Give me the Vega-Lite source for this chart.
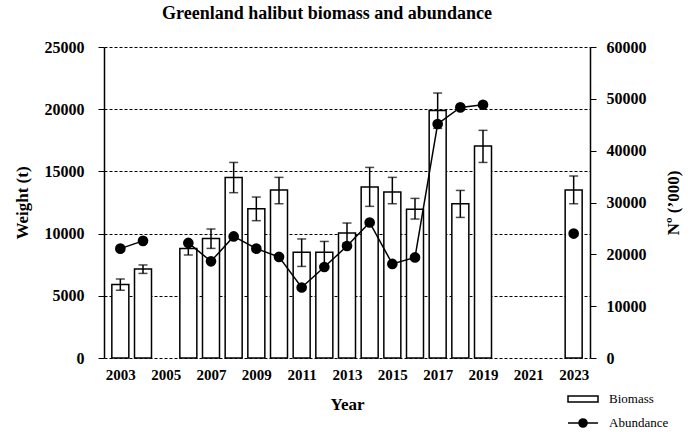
{
  "$schema": "https://vega.github.io/schema/vega-lite/v6.json",
  "width": 486,
  "height": 311,
  "autosize": {"type": "none"},
  "padding": {"left": 104, "top": 47, "right": 104, "bottom": 74},
  "background": "white",
  "config": {
    "font": "Liberation Serif",
    "view": {"stroke": null},
    "title": {"font": "Liberation Serif"},
    "legend": {"labelFont": "Liberation Serif", "titleFont": "Liberation Serif"},
    "axis": {
      "labelFont": "Liberation Serif",
      "labelFontWeight": "bold",
      "labelFontSize": 16,
      "labelColor": "black",
      "titleFont": "Liberation Serif",
      "titleFontWeight": "bold",
      "titleFontSize": 17,
      "titleColor": "black",
      "domainColor": "black",
      "tickColor": "black",
      "domainWidth": 1.5,
      "tickWidth": 1
    }
  },
  "title": {
    "text": "Greenland halibut biomass and abundance",
    "font": "Liberation Serif",
    "fontSize": 18,
    "fontWeight": "bold",
    "color": "black",
    "anchor": "middle",
    "frame": "group",
    "dx": -20,
    "offset": 16
  },
  "data": {
    "values": [
      {"year": 2003, "biomass": 5900, "lo": 5450, "hi": 6350, "abundance": 21100, "seg": "a"},
      {"year": 2004, "biomass": 7150, "lo": 6800, "hi": 7480, "abundance": 22600, "seg": "a"},
      {"year": 2006, "biomass": 8800, "lo": 8280, "hi": 9320, "abundance": 22200, "seg": "b"},
      {"year": 2007, "biomass": 9600, "lo": 8810, "hi": 10370, "abundance": 18650, "seg": "b"},
      {"year": 2008, "biomass": 14500, "lo": 13290, "hi": 15720, "abundance": 23450, "seg": "b"},
      {"year": 2009, "biomass": 12000, "lo": 11040, "hi": 12940, "abundance": 21100, "seg": "b"},
      {"year": 2010, "biomass": 13500, "lo": 12400, "hi": 14520, "abundance": 19500, "seg": "b"},
      {"year": 2011, "biomass": 8500, "lo": 7360, "hi": 9570, "abundance": 13600, "seg": "b"},
      {"year": 2012, "biomass": 8500, "lo": 7360, "hi": 9370, "abundance": 17550, "seg": "b"},
      {"year": 2013, "biomass": 10050, "lo": 9240, "hi": 10850, "abundance": 21600, "seg": "b"},
      {"year": 2014, "biomass": 13750, "lo": 12190, "hi": 15320, "abundance": 26150, "seg": "b"},
      {"year": 2015, "biomass": 13350, "lo": 12400, "hi": 14520, "abundance": 18150, "seg": "b"},
      {"year": 2016, "biomass": 11950, "lo": 11170, "hi": 12830, "abundance": 19400, "seg": "b"},
      {"year": 2017, "biomass": 19900, "lo": 18460, "hi": 21300, "abundance": 45150, "seg": "b"},
      {"year": 2018, "biomass": 12400, "lo": 11300, "hi": 13470, "abundance": 48350, "seg": "b"},
      {"year": 2019, "biomass": 17050, "lo": 15720, "hi": 18300, "abundance": 48850, "seg": "b"},
      {"year": 2023, "biomass": 13500, "lo": 12400, "hi": 14630, "abundance": 24000, "seg": "c"}
    ]
  },
  "layer": [
    {
      "layer": [
        {
          "mark": {"type": "bar", "size": 17, "fill": "white", "stroke": "black", "strokeWidth": 1.5},
          "encoding": {
            "x": {
              "field": "year",
              "type": "quantitative",
              "scale": {"domain": [2002.5, 2023.5], "nice": false, "zero": false},
              "axis": {
                "values": [2003, 2005, 2007, 2009, 2011, 2013, 2015, 2017, 2019, 2021, 2023],
                "format": "d",
                "title": "Year",
                "grid": false,
                "domain": false,
                "ticks": false,
                "labelPadding": 9,
                "titlePadding": 14,
                "labelFontSize": 15
              }
            },
            "y": {
              "field": "biomass",
              "type": "quantitative",
              "title": "Weight (t)",
              "scale": {"domain": [0, 25000], "nice": false},
              "axis": {
                "values": [0, 5000, 10000, 15000, 20000, 25000],
                "format": "d",
                "title": "Weight (t)",
                "grid": true,
                "gridColor": "black",
                "gridDash": [3, 2],
                "gridWidth": 1,
                "tickSize": 6,
                "labelPadding": 14,
                "titlePadding": 13
              }
            },
            "fill": {
              "datum": "Biomass",
              "scale": {"range": ["white"]},
              "legend": {
                "orient": "none",
                "legendX": 463,
                "legendY": 336,
                "title": null,
                "symbolType": "M-1,-0.2H1V0.2H-1Z",
                "symbolSize": 900,
                "symbolStrokeColor": "black",
                "symbolStrokeWidth": 1.5,
                "labelFont": "Liberation Serif",
                "labelFontSize": 13,
                "labelColor": "black",
                "labelOffset": 10
              }
            }
          }
        },
        {
          "mark": {"type": "errorbar", "color": "black", "ticks": {"size": 9, "thickness": 1.5}, "rule": {"strokeWidth": 1.5}},
          "encoding": {
            "x": {"field": "year", "type": "quantitative"},
            "y": {"field": "lo", "type": "quantitative", "title": "Weight (t)"},
            "y2": {"field": "hi"}
          }
        }
      ]
    },
    {
      "mark": {"type": "line", "color": "black", "strokeWidth": 1.5, "point": {"filled": true, "size": 75, "color": "black"}},
      "encoding": {
        "x": {"field": "year", "type": "quantitative"},
        "y": {
          "field": "abundance",
          "type": "quantitative",
          "scale": {"domain": [0, 60000], "nice": false},
          "axis": {
            "orient": "right",
            "values": [0, 10000, 20000, 30000, 40000, 50000, 60000],
            "format": "d",
            "title": "Nº (’000)",
            "titleAngle": 270,
            "grid": false,
            "tickSize": 6,
            "labelPadding": 10,
            "titlePadding": 36
          }
        },
        "detail": {"field": "seg"},
        "stroke": {
          "datum": "Abundance",
          "scale": {"range": ["black"]},
          "legend": {
            "orient": "none",
            "legendX": 463,
            "legendY": 360,
            "title": null,
            "symbolType": "M-1,0H1M-0.27,0A0.27,0.27 0 1 1 0.27,0A0.27,0.27 0 1 1 -0.27,0Z",
            "symbolSize": 900,
            "symbolFillColor": "black",
            "symbolStrokeColor": "black",
            "symbolStrokeWidth": 1.5,
            "labelFont": "Liberation Serif",
            "labelFontSize": 13,
            "labelColor": "black",
            "labelOffset": 10
          }
        }
      }
    }
  ],
  "resolve": {"scale": {"y": "independent", "fill": "independent", "stroke": "independent"}}
}
